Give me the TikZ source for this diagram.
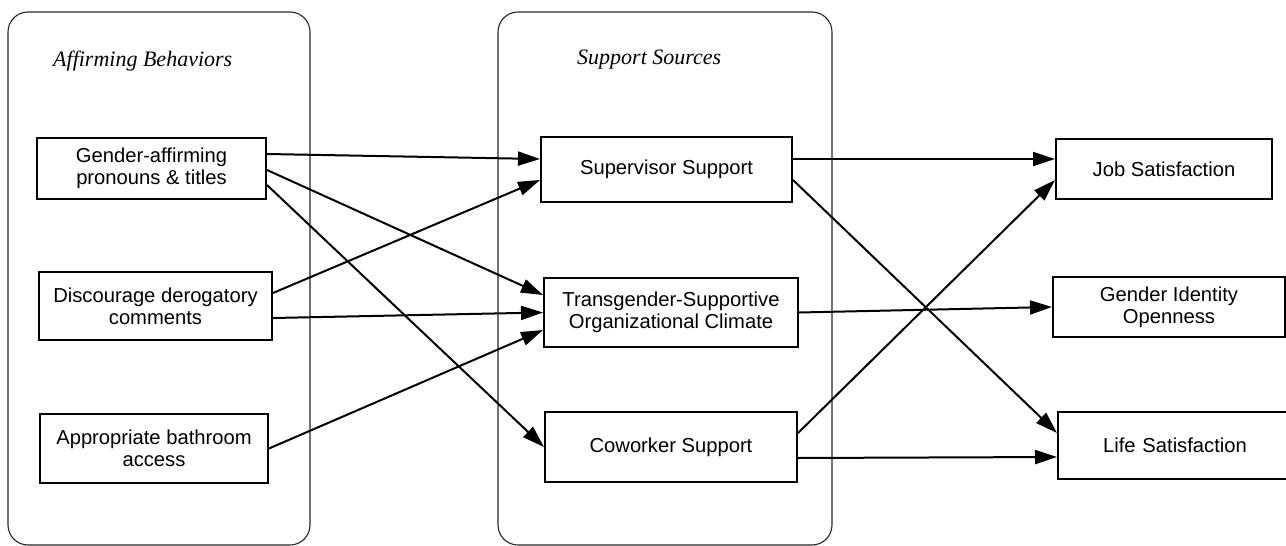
\documentclass[tikz,border=0pt]{standalone}
\usepackage{fontspec}
\newfontfamily\arialf{Liberation Sans}
\newfontfamily\timesf{Liberation Serif}
\usetikzlibrary{arrows.meta}
\tikzset{
  varbox/.style={draw=black, line width=2pt, inner sep=0pt, align=center,
    font=\arialf\fontsize{20.2}{22}\selectfont, fill=white},
  groupbox/.style={draw=black!85, line width=1.1pt, rounded corners=20pt},
  heading/.style={anchor=west, inner sep=0pt, font=\timesf\itshape\fontsize{22}{26}\selectfont},
  path arrow/.style={line width=2pt, -{Triangle[length=22pt,width=14pt]}}
}
\begin{document}
\begin{tikzpicture}[x=1pt,y=-1pt]
\useasboundingbox (0,0) rectangle (1286,546);
% group boxes
\draw[groupbox] (8,12) rectangle (310,545);
\draw[groupbox] (498,12) rectangle (832,545);
\node[heading] (h1) at (53,61) {Affirming Behaviors};
\node[heading] (h2) at (577,60) {Support Sources};
% left column
\node[varbox, minimum width=229pt, minimum height=61pt] (b1) at (151.5,168.5) {Gender-affirming\\pronouns \& titles};
\node[varbox, minimum width=233pt, minimum height=68pt] (b2) at (155.5,306) {Discourage derogatory\\comments};
\node[varbox, minimum width=228pt, minimum height=69pt] (b3) at (154,448.5) {Appropriate bathroom\\access};
% middle column
\node[varbox, minimum width=251pt, minimum height=65pt] (sup) at (666.5,169.5) {Supervisor Support};
\node[varbox, minimum width=254pt, minimum height=69pt] (tsoc) at (671,312.5) {Transgender-Supportive\\Organizational Climate};
\node[varbox, minimum width=252pt, minimum height=70pt] (cow) at (671,447) {Coworker Support};
% right column
\node[varbox, minimum width=216pt, minimum height=60pt] (job) at (1164,169) {Job Satisfaction};
\node[varbox, minimum width=232pt, minimum height=60pt] (gio) at (1169,307) {Gender Identity\\Openness};
\node[varbox, minimum width=234pt, minimum height=67pt, text width=228pt] (life) at (1175,445.5) {Life Satisfaction\hspace*{8pt}};
% arrows: left -> middle
\draw[path arrow] ([yshift=14.5pt]b1.east) -- ([yshift=10.5pt]sup.west);
\draw[path arrow] ([yshift=-1.5pt]b1.east) -- ([yshift=17.5pt]tsoc.west);
\draw[path arrow] ([yshift=-16.5pt]b1.east) -- (cow.west);
\draw[path arrow] ([yshift=13pt]b2.east) -- ([yshift=-10.5pt]sup.west);
\draw[path arrow] ([yshift=-12pt]b2.east) -- (tsoc.west);
\draw[path arrow] (b3.east) -- ([yshift=-17.5pt]tsoc.west);
% arrows: middle -> right
\draw[path arrow] ([yshift=10.5pt]sup.east) -- ([yshift=10pt]job.west);
\draw[path arrow] ([yshift=-10.5pt]sup.east) -- ([yshift=12.5pt]life.west);
\draw[path arrow] (tsoc.east) -- (gio.west);
\draw[path arrow] ([yshift=14pt]cow.east) -- ([yshift=-11pt]job.west);
\draw[path arrow] ([yshift=-11pt]cow.east) -- ([yshift=-11.5pt]life.west);
\end{tikzpicture}
\end{document}
